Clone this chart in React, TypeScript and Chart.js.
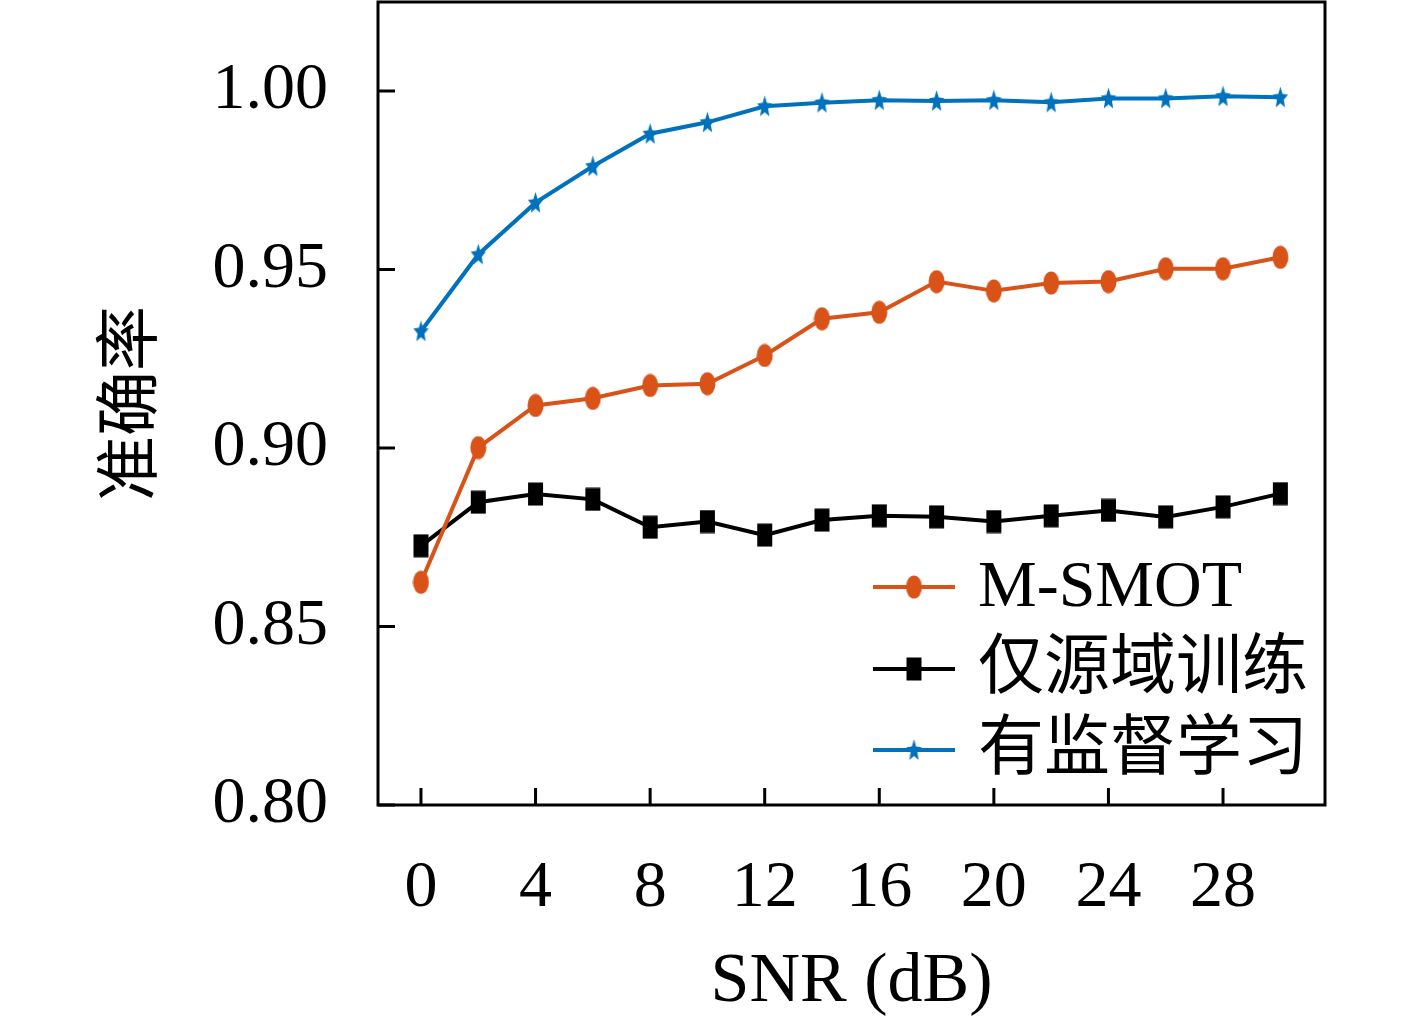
import { useEffect, useRef } from "react";
import { Chart, registerables, type Plugin } from "chart.js";

Chart.register(...registerables);

// SNR (dB)
const snr = [0, 2, 4, 6, 8, 10, 12, 14, 16, 18, 20, 22, 24, 26, 28, 30];
const mSmot = [
  0.8624, 0.9001, 0.9119, 0.9139, 0.9175, 0.918, 0.9259, 0.9362,
  0.938, 0.9466, 0.944, 0.9462, 0.9466, 0.9502, 0.9502, 0.9534,
];
const sourceOnly = [
  0.8726, 0.8848, 0.8871, 0.8856, 0.8778, 0.8794, 0.8756, 0.8798,
  0.881, 0.8807, 0.8794, 0.881, 0.8825, 0.8807, 0.8835, 0.8872,
];
const supervised = [
  0.9327, 0.9542, 0.9687, 0.9789, 0.988, 0.9912, 0.9957, 0.9967,
  0.9974, 0.9972, 0.9974, 0.9968, 0.9979, 0.9979, 0.9985, 0.9982,
];
const xTicks = [0, 4, 8, 12, 16, 20, 24, 28];
const yTicks = [0.8, 0.85, 0.9, 0.95, 1.0];

const ORANGE = "#D95319";
const BLACK = "#000000";
const BLUE = "#0072BD";
const FONT = "'Liberation Serif', 'Noto Sans CJK SC', serif";

function marker(kind: "circle" | "square" | "star", color: string) {
  const c = document.createElement("canvas");
  c.width = 17;
  c.height = 24;
  const g = c.getContext("2d")!;
  g.fillStyle = color;
  if (kind === "circle") {
    g.beginPath();
    g.ellipse(8.5, 12, 8, 11.5, 0, 0, Math.PI * 2);
    g.fill();
  } else if (kind === "square") {
    g.fillRect(1, 0.5, 15, 23);
  } else {
    g.beginPath();
    for (let i = 0; i < 10; i++) {
      const r = i % 2 === 0 ? 1 : 0.45;
      const a = -Math.PI / 2 + (i * Math.PI) / 5;
      g.lineTo(8.5 + Math.cos(a) * r * 8, 12.8 + Math.sin(a) * r * 11.5);
    }
    g.closePath();
    g.fill();
  }
  return c;
}

// box, inward ticks and legend inside the plot
const frame: Plugin = {
  id: "frame",
  afterDraw(chart) {
    const { ctx, chartArea: a, scales } = chart;
    ctx.save();
    ctx.strokeStyle = "#000";
    ctx.lineWidth = 3;
    ctx.strokeRect(a.left, a.top, a.right - a.left, a.bottom - a.top);
    ctx.beginPath();
    xTicks.forEach((v) => {
      const px = scales.x.getPixelForValue(v);
      ctx.moveTo(px, a.bottom);
      ctx.lineTo(px, a.bottom - 17);
    });
    yTicks.forEach((v) => {
      const py = scales.y.getPixelForValue(v);
      ctx.moveTo(a.left, py);
      ctx.lineTo(a.left + 17, py);
    });
    ctx.stroke();

    const rows = [a.bottom - 218, a.bottom - 136, a.bottom - 55];
    ctx.font = `66px ${FONT}`;
    ctx.textBaseline = "middle";
    ctx.fillStyle = "#000";
    chart.data.datasets.forEach((ds: any, i) => {
      const y = rows[i];
      const x0 = a.right - 452;
      ctx.strokeStyle = ds.borderColor;
      ctx.lineWidth = 4;
      ctx.beginPath();
      ctx.moveTo(x0, y);
      ctx.lineTo(x0 + 82, y);
      ctx.stroke();
      const img = ds.pointStyle as HTMLCanvasElement;
      ctx.drawImage(img, x0 + 41 - img.width / 2, y - img.height / 2);
      ctx.fillText(ds.label, a.right - 347, y + 2);
    });
    ctx.restore();
  },
};

export default function App() {
  const canvasRef = useRef<HTMLCanvasElement>(null);

  useEffect(() => {
    document.body.style.margin = "0";
    if (!canvasRef.current) return;
    const chart = new Chart(canvasRef.current, {
      type: "line",
      data: {
        labels: snr,
        datasets: [
          {
            label: "M-SMOT",
            data: snr.map((x, i) => ({ x, y: mSmot[i] })),
            borderColor: ORANGE,
            backgroundColor: ORANGE,
            borderWidth: 4,
            pointStyle: marker("circle", ORANGE),
          },
          {
            label: "仅源域训练",
            data: snr.map((x, i) => ({ x, y: sourceOnly[i] })),
            borderColor: BLACK,
            backgroundColor: BLACK,
            borderWidth: 4,
            pointStyle: marker("square", BLACK),
          },
          {
            label: "有监督学习",
            data: snr.map((x, i) => ({ x, y: supervised[i] })),
            borderColor: BLUE,
            backgroundColor: BLUE,
            borderWidth: 4,
            pointStyle: marker("star", BLUE),
          },
        ],
      },
      options: {
        responsive: false,
        animation: false,
        layout: {
          autoPadding: false,
          padding: { top: 2, right: 92, left: 0, bottom: 0 },
        },
        elements: {
          line: { tension: 0 },
          point: { radius: 8, hoverRadius: 8 },
        },
        plugins: {
          legend: { display: false },
          tooltip: { enabled: false },
        },
        scales: {
          x: {
            type: "linear",
            min: -1.5,
            max: 31.56,
            grid: { display: false },
            border: { display: false },
            afterBuildTicks: (s) => {
              s.ticks = xTicks.map((value) => ({ value }));
            },
            afterFit: (s: any) => {
              s.height = 220;
              s.paddingLeft = 0;
              s.paddingRight = 0;
            },
            ticks: {
              autoSkip: false,
              maxRotation: 0,
              padding: 36,
              color: "#000",
              font: { family: FONT, size: 66 },
            },
            title: {
              display: true,
              text: "SNR (dB)",
              color: "#000",
              padding: 0,
              font: { family: FONT, size: 70 },
            },
          },
          y: {
            min: 0.8,
            max: 1.0249,
            grid: { display: false },
            border: { display: false },
            afterBuildTicks: (s) => {
              s.ticks = yTicks.map((value) => ({ value }));
            },
            afterFit: (s: any) => {
              s.width = 378;
              s.paddingTop = 0;
              s.paddingBottom = 0;
            },
            ticks: {
              padding: 42,
              color: "#000",
              font: { family: FONT, size: 66 },
              callback: (v) => Number(v).toFixed(2),
            },
            title: {
              display: true,
              text: "准确率",
              color: "#000",
              padding: 95,
              font: { family: FONT, size: 65 },
            },
          },
        },
      },
      plugins: [frame],
    });
    return () => chart.destroy();
  }, []);

  return (
    <div style={{ width: 1417, height: 1025, background: "#fff" }}>
      <canvas ref={canvasRef} width={1417} height={1025} />
    </div>
  );
}
